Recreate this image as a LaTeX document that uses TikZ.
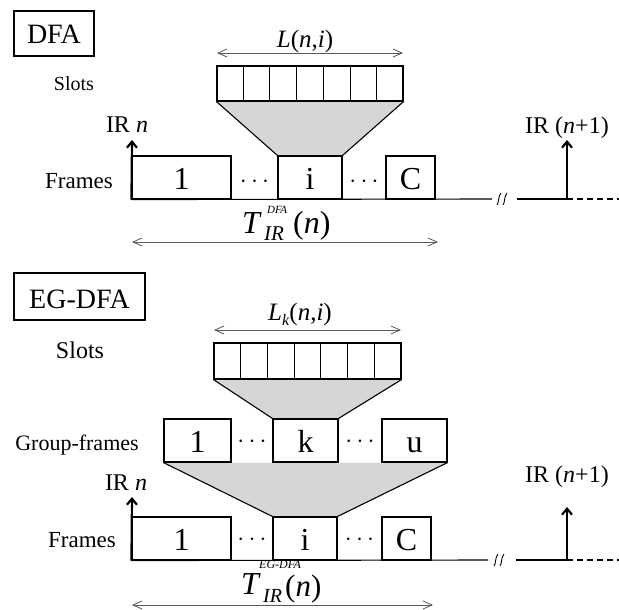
\documentclass[tikz,border=0pt]{standalone}
\usepackage{fontspec}
\setmainfont{Liberation Serif}
\usetikzlibrary{arrows.meta,calc,backgrounds}
\newcommand\setfs[1]{\fontsize{#1}{#1}\selectfont}
\begin{document}
\begin{tikzpicture}[x=1pt,y=-1pt,
  outline/.style={draw=black,line width=1.1pt},
  cellbox/.style={outline,inner sep=0pt,minimum height=43pt,text height=23pt,text depth=0pt,font=\setfs{32}},
  slotrow/.style={outline,inner sep=0pt},
  tagbox/.style={outline,inner sep=0pt,text depth=0pt,font=\setfs{28}},
  lbl/.style={inner sep=0pt,anchor=base},
  lblw/.style={inner sep=0pt,anchor=base west},
  dotsl/.style={lbl,font=\setfs{27}},
  span/.style={draw=black!65,line width=0.8pt,{Straight Barb[length=9pt,width=8pt]}-{Straight Barb[length=9pt,width=8pt]}},
  irarrow/.style={line width=2.2pt,-{Straight Barb[length=6pt,width=10pt]}},
  funnel/.style={fill=black!16},
  timeline/.style={line width=1.1pt},
  future/.style={line width=1.1pt,dash pattern=on 6pt off 4pt},
  brk/.style={line width=0.9pt}
]
\useasboundingbox (0,0) rectangle (619,610);

% ---------------- DFA ----------------
\node[tagbox,minimum width=80pt,minimum height=45pt,text height=21pt] (tagA) at (54,33.5) {DFA};
\node[lbl,font=\setfs{20}] (slA) at (74,91) {Slots};
\node[lbl,font=\setfs{23}] (frA) at (79,188) {Frames};

% slot row
\node[slotrow,minimum width=186pt,minimum height=35pt] (sA) at (310,83.5) {};
\foreach \k in {1,...,6}
  \draw[outline] ($(sA.south west)!\k/7!(sA.south east)$) -- ($(sA.north west)!\k/7!(sA.north east)$);

% frames
\node[cellbox,minimum width=99pt] (fA1) at (181.5,177.5) {1};
\node[cellbox,minimum width=64pt] (fAi) at (310,177.5) {i};
\node[cellbox,minimum width=49pt] (fAC) at (410.5,177.5) {C};
\node[dotsl] (dA1) at (254.5,187) {$\cdots$};
\node[dotsl] (dA2) at (364,187) {$\cdots$};

\begin{scope}[on background layer]
  \fill[funnel] (sA.south west) -- (sA.south east) -- (fAi.north east) -- (fAi.north west) -- cycle;
\end{scope}
\draw[outline] (sA.south west) -- (fAi.north west);
\draw[outline] (sA.south east) -- (fAi.north east);

% time line
\coordinate (brkA1) at (492,199);
\coordinate (brkA2) at (517,199);
\coordinate (nxtA) at (567,199);
\coordinate (endA) at (619,199);
\draw[timeline] (fA1.south west) -- (brkA1);
\draw[timeline] (brkA2) -- (nxtA);
\draw[future] (nxtA) -- (endA);
\begin{scope}[shift={(497,199)}]
  \draw[brk] (0,6) .. controls (2,4) and (1,-3) .. (4,-6);
  \draw[brk] (6,6) .. controls (8,4) and (7,-3) .. (10,-6);
\end{scope}

% IR instants
\coordinate (tipA1) at (132,140);
\coordinate (tipA2) at (567,140);
\draw[irarrow] (fA1.south west) -- (tipA1);
\draw[irarrow] (nxtA) -- (tipA2);
\node[lbl,font=\setfs{24}] (irA1) at (127,132) {IR \textit{n}};
\node[lbl,font=\setfs{24}] (irA2) at (567,133) {IR (\textit{n}+1)};

% spans
\coordinate (LAl) at (217,53);
\coordinate (LAr) at (403,53);
\draw[span] (LAl) -- (LAr);
\node[lbl,font=\setfs{25}] (LA) at (305,48) {\textit{L}(\textit{n},\textit{i})};

\coordinate (TAl) at (132,242);
\coordinate (TAr) at (438,242);
\draw[span] (TAl) -- (TAr);
\node[lblw,font=\setfs{32}\itshape] (TA) at (242,233) {T};
\node[lblw,font=\setfs{21}\itshape] (TAsub) at (264,240) {IR};
\node[lblw,font=\setfs{11}\itshape] (TAsup) at (267,213) {DFA};
\node[lblw,font=\setfs{32}] (TAn) at (293,233) {(\textit{n})};

% ---------------- EG-DFA ----------------
\node[tagbox,minimum width=131pt,minimum height=47pt,text height=23pt] (tagB) at (79.5,296.5) {EG-DFA};
\node[lbl,font=\setfs{24}] (slB) at (80,358) {Slots};
\node[lbl,font=\setfs{22}] (gfB) at (77,450) {Group-frames};
\node[lbl,font=\setfs{23}] (frB) at (82,547) {Frames};

% slot row
\node[slotrow,minimum width=187pt,minimum height=36pt] (sB) at (307.5,361) {};
\foreach \k in {1,...,6}
  \draw[outline] ($(sB.south west)!\k/7!(sB.south east)$) -- ($(sB.north west)!\k/7!(sB.north east)$);

% group-frames
\node[cellbox,minimum width=67pt] (gB1) at (197.5,440.5) {1};
\node[cellbox,minimum width=65pt] (gBk) at (305.5,440.5) {k};
\node[cellbox,minimum width=65pt] (gBu) at (414.5,440.5) {u};
\node[dotsl] (dB1) at (252,447) {$\cdots$};
\node[dotsl] (dB2) at (360,447) {$\cdots$};

% frames
\node[cellbox,minimum width=99pt] (eB1) at (181.5,538.5) {1};
\node[cellbox,minimum width=64pt] (eBi) at (305,538.5) {i};
\node[cellbox,minimum width=49pt] (eBC) at (406.5,538.5) {C};
\node[dotsl] (dB3) at (252,545) {$\cdots$};
\node[dotsl] (dB4) at (359.5,545) {$\cdots$};

\begin{scope}[on background layer]
  \fill[funnel] (sB.south west) -- (sB.south east) -- (gBk.north east) -- (gBk.north west) -- cycle;
  \fill[funnel] (gB1.south west) -- (gBu.south east) -- (eBi.north east) -- (eBi.north west) -- cycle;
\end{scope}
\draw[outline] (sB.south west) -- (gBk.north west);
\draw[outline] (sB.south east) -- (gBk.north east);
\draw[outline] (gB1.south west) -- (eBi.north west);
\draw[outline] (gBu.south east) -- (eBi.north east);

% time line
\coordinate (brkB1) at (488,560);
\coordinate (brkB2) at (516,560);
\coordinate (nxtB) at (567,560);
\coordinate (endB) at (619,560);
\draw[timeline] (eB1.south west) -- (brkB1);
\draw[timeline] (brkB2) -- (nxtB);
\draw[future] (nxtB) -- (endB);
\begin{scope}[shift={(494,560)}]
  \draw[brk] (0,6) .. controls (2,4) and (1,-3) .. (4,-6);
  \draw[brk] (6,6) .. controls (8,4) and (7,-3) .. (10,-6);
\end{scope}

% IR instants
\coordinate (tipB1) at (132,497);
\coordinate (tipB2) at (567,507);
\draw[irarrow] (eB1.south west) -- (tipB1);
\draw[irarrow] (nxtB) -- (tipB2);
\node[lbl,font=\setfs{24}] (irB1) at (126,490) {IR \textit{n}};
\node[lbl,font=\setfs{24}] (irB2) at (567,482) {IR (\textit{n}+1)};

% spans
\coordinate (LBl) at (214,330);
\coordinate (LBr) at (401,330);
\draw[span] (LBl) -- (LBr);
\node[lbl,font=\setfs{25}] (LB) at (300,320) {\textit{L}\raisebox{-5pt}{\setfs{16}\textit{k}}(\textit{n},\textit{i})};

\coordinate (TBl) at (132,605);
\coordinate (TBr) at (433,605);
\draw[span] (TBl) -- (TBr);
\node[lblw,font=\setfs{32}\itshape] (TB) at (241,594) {T};
\node[lblw,font=\setfs{20}\itshape] (TBsub) at (263,602) {IR};
\node[lblw,font=\setfs{12}\itshape] (TBsup) at (259,568) {EG-DFA};
\node[lblw,font=\setfs{31}] (TBn) at (285,596) {(\textit{n})};
\end{tikzpicture}
\end{document}
